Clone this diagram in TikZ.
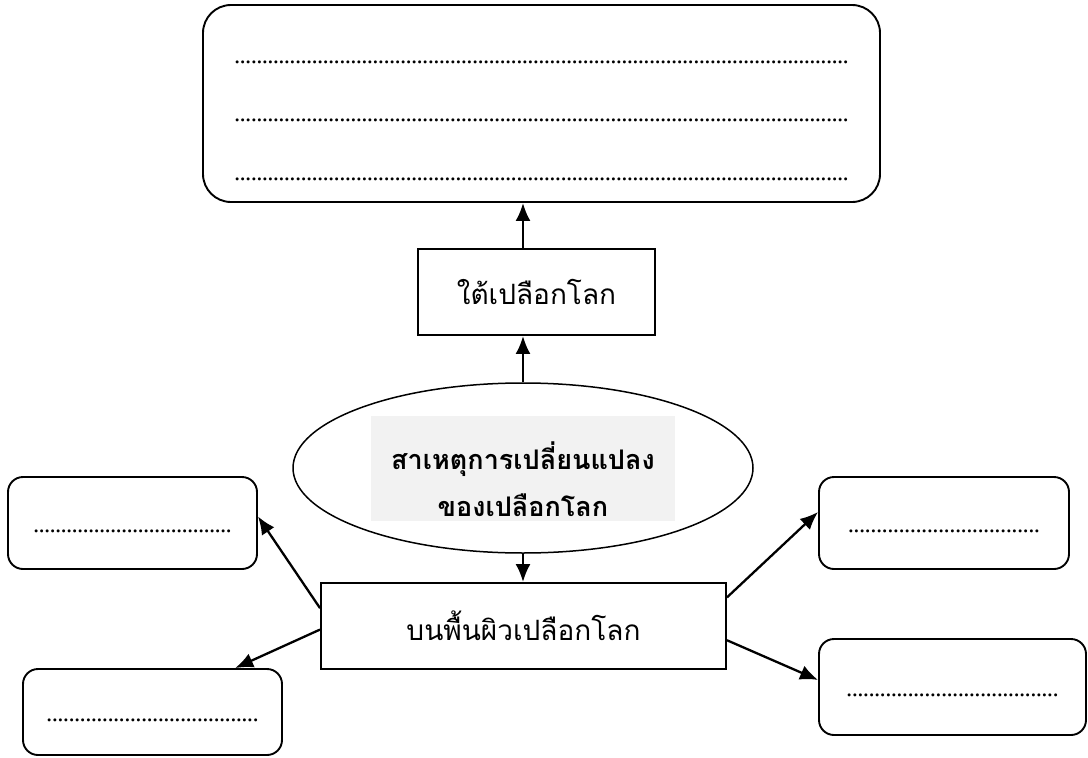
\documentclass[tikz,border=0pt]{standalone}
\usepackage{fontspec}
\setmainfont{Liberation Serif}
\newfontfamily\thaifont[Script=Thai]{Loma}
\usetikzlibrary{shapes.geometric}
\usetikzlibrary{arrows.meta}
\definecolor{shade}{HTML}{F2F2F2}
\newcommand{\dotrow}[1]{\hbox to #1{\xleaders\hbox to 5.5pt{\hss.\hss}\hfill}}

\begin{document}
\begin{tikzpicture}[
    x=1pt, y=-1pt,
    >={Latex[length=18pt,width=15pt]},
    every node/.style={font=\fontsize{25}{58.5}\selectfont},
    thaitext/.style={font=\thaifont\fontsize{28}{30}\selectfont},
    frame/.style={draw, line width=1.9pt, inner sep=0pt},
    answer/.style={frame, rounded corners=15pt, text height=18pt, text depth=0pt},
    flow/.style={->, line width=2.3pt}
]
\useasboundingbox (0,0) rectangle (1088,758);

% top box with the three answer lines
\node[frame, rounded corners=28pt, minimum width=677pt, minimum height=197pt, align=center, text height=153pt, text depth=0pt] (notes) at (541.5,103.5) {\dotrow{614pt}\\\dotrow{614pt}\\\dotrow{614pt}};
\node[frame, thaitext, minimum width=237pt, minimum height=86pt] (under) at (536.5,292) {ใต้เปลือกโลก};

% centre
\node[draw, ellipse, line width=1.5pt, minimum width=460pt, minimum height=170pt] (cause) at (523,468) {};
\node[fill=shade, minimum width=304pt, minimum height=105pt] (causebg) at (523,468.5) {};
\node[font=\thaifont\bfseries\fontsize{27}{47}\selectfont, align=center] (causetext) at (523,479) {สาเหตุการเปลี่ยนแปลง\\ของเปลือกโลก};
\node[frame, thaitext, minimum width=405pt, minimum height=86pt] (surface) at (523.5,626) {บนพื้นผิวเปลือกโลก};

% answer boxes
\node[answer, minimum width=249pt, minimum height=92pt] (lt) at (132.5,523) {\dotrow{198pt}};
\node[answer, minimum width=259pt, minimum height=86pt] (lb) at (152.5,712) {\dotrow{212pt}};
\node[answer, minimum width=250pt, minimum height=92pt] (rt) at (944,523) {\dotrow{192pt}};
\node[answer, minimum width=267pt, minimum height=96pt] (rb) at (952.5,687) {\dotrow{212pt}};

\draw[flow] (cause.north) -- (cause.north |- under.south);
\draw[flow] (cause.north |- under.north) -- (cause.north |- notes.south);
\draw[flow] (cause.south) -- (cause.south |- surface.north);
\draw[flow] (surface.175) -- (lt.3);
\draw[flow] (surface.181) -- (lb.28);
\draw[flow] (surface.8) -- (rt.175);
\draw[flow] (surface.356) -- (rb.177);
\end{tikzpicture}
\end{document}
